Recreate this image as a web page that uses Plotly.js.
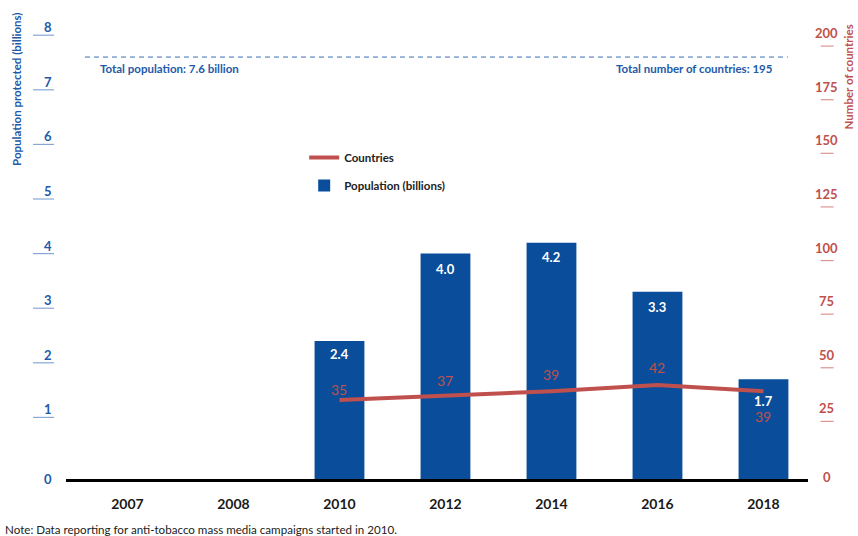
<!DOCTYPE html>
<html>
<head>
<meta charset="utf-8">
<script src="https://cdn.plot.ly/plotly-3.0.1.min.js"></script>
<style>
  html, body { margin: 0; padding: 0; background: #fff; }
  #chart { width: 858px; height: 536px; }
</style>
</head>
<body>
<div id="chart"></div>
<script>
// ---- data ----
const years = ['2007', '2008', '2010', '2012', '2014', '2016', '2018'];
const dataYears = ['2010', '2012', '2014', '2016', '2018'];
const population = [2.4, 4.0, 4.2, 3.3, 1.7];          // billions
const countries = [35, 37, 39, 42, 39];                 // number of countries
const leftTicks = [0, 1, 2, 3, 4, 5, 6, 7, 8];
const rightTicks = [0, 25, 50, 75, 100, 125, 150, 175, 200];
const totalPopulation = 7.6;
const totalCountries = 195;

// ---- styles ----
const FONT = 'Lato, "Liberation Sans", Arial, sans-serif';
const BLUE_TEXT = '#1e5aa8';
const BAR_BLUE = '#0a4d9b';
const RED = '#c0504d';
const baseline = -0.128;                       // axis line sits a little below zero
const popLabelShift = [-13, -15, -14, -15, -22];
const cntLabelShift = [10, 15, 17, 17, -25];

const xIdx = dataYears.map(y => years.indexOf(y));

const traces = [
  {
    type: 'scatter', mode: 'lines', name: 'Countries',
    x: xIdx, y: countries, yaxis: 'y2',
    line: { color: RED, width: 4 },
    hoverinfo: 'skip', legendrank: 1, legendgroup: 'a'
  },
  {
    type: 'bar', name: 'Population (billions)',
    x: xIdx, y: population.map(v => v - baseline), base: baseline,
    width: 0.47, marker: { color: BAR_BLUE, line: { width: 0 } },
    hoverinfo: 'skip', legendrank: 2, legendgroup: 'b'
  }
];

const annotations = [];
const shapes = [];

// bar value labels
population.forEach((v, i) => {
  annotations.push({
    x: xIdx[i], y: v, xref: 'x', yref: 'y', yshift: popLabelShift[i],
    text: '<b>' + v.toFixed(1) + '</b>', showarrow: false,
    font: { family: FONT, size: 13, color: '#ffffff' }
  });
});
// line value labels
countries.forEach((v, i) => {
  annotations.push({
    x: xIdx[i], y: v, xref: 'x', yref: 'y2', yshift: cntLabelShift[i],
    text: String(v), showarrow: false,
    font: { family: FONT, size: 14, color: RED }
  });
});
// left tick labels + tick lines
leftTicks.forEach(t => {
  annotations.push({
    x: -0.016, y: t, xref: 'paper', yref: 'y', xanchor: 'right',
    yshift: t === 0 ? -7 : 8,
    text: '<b>' + t + '</b>', showarrow: false,
    font: { family: FONT, size: 13, color: BLUE_TEXT }
  });
  if (t !== 0) {
    shapes.push({
      type: 'line', xref: 'paper', yref: 'y',
      x0: -0.0445, x1: -0.0162, y0: t, y1: t,
      line: { color: '#86a8d6', width: 1.2 }
    });
  }
});
// right tick labels + tick lines
rightTicks.forEach(t => {
  annotations.push({
    x: 1.0256, y: t, xref: 'paper', yref: 'y2', xanchor: 'center',
    yshift: t === 0 ? -2 : 13,
    text: '<b>' + t + '</b>', showarrow: false,
    font: { family: FONT, size: 13, color: RED }
  });
  if (t !== 0) {
    shapes.push({
      type: 'line', xref: 'paper', yref: 'y2',
      x0: 1.017, x1: 1.0345, y0: t, y1: t,
      line: { color: '#dc9593', width: 1.2 }
    });
  }
});
// total population reference line
shapes.push({
  type: 'line', xref: 'paper', yref: 'y',
  x0: 0.0256, x1: 0.973, y0: totalPopulation, y1: totalPopulation,
  line: { color: '#3a6db5', width: 1, dash: '5px,4px' }
});
annotations.push({
  x: 0.0431, y: totalPopulation, xref: 'paper', yref: 'y', xanchor: 'left', yshift: -11,
  text: '<b>Total population: ' + totalPopulation + ' billion</b>', showarrow: false,
  font: { family: FONT, size: 11.5, color: BLUE_TEXT }
});
annotations.push({
  x: 0.9555, y: totalPopulation, xref: 'paper', yref: 'y', xanchor: 'right', yshift: -11,
  text: '<b>Total number of countries: ' + totalCountries + '</b>', showarrow: false,
  font: { family: FONT, size: 11.5, color: BLUE_TEXT }
});
// axis titles
annotations.push({
  x: -0.066, y: 0.844, xref: 'paper', yref: 'paper', textangle: -90,
  xanchor: 'center', yanchor: 'middle',
  text: '<b>Population protected (billions)</b>', showarrow: false,
  font: { family: FONT, size: 11.5, color: BLUE_TEXT }
});
annotations.push({
  x: 1.0545, y: 0.872, xref: 'paper', yref: 'paper', textangle: -90,
  xanchor: 'center', yanchor: 'middle',
  text: '<b>Number of countries</b>', showarrow: false,
  font: { family: FONT, size: 11.5, color: RED }
});
// note
annotations.push({
  x: -0.0849, y: -0.1106, xref: 'paper', yref: 'paper', xanchor: 'left', yanchor: 'middle',
  text: 'Note: Data reporting for anti-tobacco mass media campaigns started in 2010.',
  showarrow: false, font: { family: FONT, size: 11.6, color: '#222222' }
});

const layout = {
  width: 858, height: 536,
  margin: { l: 66, r: 50, t: 18, b: 57 },
  paper_bgcolor: '#ffffff', plot_bgcolor: '#ffffff',
  font: { family: FONT, color: '#222' },
  showlegend: true,
  legend: {
    x: 0.321, y: 0.729, xanchor: 'left', yanchor: 'top',
    bgcolor: 'rgba(0,0,0,0)', tracegroupgap: 9,
    font: { family: FONT, size: 11.5, color: '#222222', weight: 'bold' }
  },
  xaxis: {
    range: [-0.58, 6.42], tickmode: 'array',
    tickvals: years.map((y, i) => i), ticktext: years,
    showgrid: false, zeroline: false,
    showline: true, linecolor: '#000000', linewidth: 3,
    ticks: 'outside', ticklen: 10, tickcolor: 'rgba(0,0,0,0)',
    tickfont: { family: FONT, size: 14, color: '#1a1a1a', weight: 'bold' },
    fixedrange: true
  },
  yaxis: {
    range: [baseline, 8.315], showgrid: false, zeroline: false,
    showticklabels: false, ticks: '', showline: false, fixedrange: true
  },
  yaxis2: {
    range: [-1.865, 213.1], overlaying: 'y', side: 'right',
    showgrid: false, zeroline: false, showticklabels: false, ticks: '',
    showline: false, fixedrange: true
  },
  annotations: annotations,
  shapes: shapes
};

Plotly.newPlot('chart', traces, layout, { displayModeBar: false, staticPlot: true });
</script>
</body>
</html>
